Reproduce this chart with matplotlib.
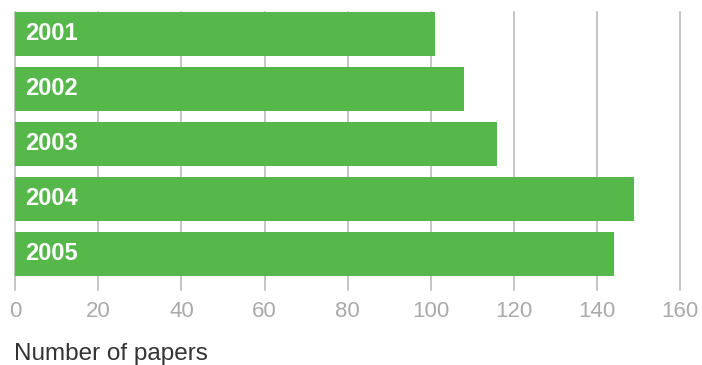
import matplotlib.pyplot as plt

years = ["2001", "2002", "2003", "2004", "2005"]
papers = [101, 108, 116, 149, 144]
ticks = [0, 20, 40, 60, 80, 100, 120, 140, 160]

plt.rcParams['font.family'] = ['Liberation Sans', 'DejaVu Sans']

fig = plt.figure(figsize=(7.02, 3.65), dpi=100)
ax = fig.add_axes([15.3 / 702, 75 / 365, 664.7 / 702, 278 / 365])

pos = list(range(len(years)))
ax.barh(pos, papers, height=0.8, color='#56b84a', zorder=2)

for y, label in zip(pos, years):
    ax.text(2.4, y, label, color='white', fontsize=17, fontweight='bold',
            va='center', ha='left', zorder=3)

ax.set_xlim(0, 160)
ax.set_ylim(4.655, -0.4)
ax.set_xticks(ticks)
ax.set_yticks([])
ax.grid(axis='x', color='#b4b4b4', linewidth=1.1, zorder=0)
for gl in ax.get_xgridlines():
    gl.set_clip_on(False)
ax.tick_params(axis='x', length=0, pad=8, labelsize=16, labelcolor='#aaaaaa')
for s in ax.spines.values():
    s.set_visible(False)

fig.text(14 / 702, 5 / 365, "Number of papers", fontsize=17.5, color='#333333',
         ha='left', va='baseline')

fig.savefig('out.png', dpi=100)
